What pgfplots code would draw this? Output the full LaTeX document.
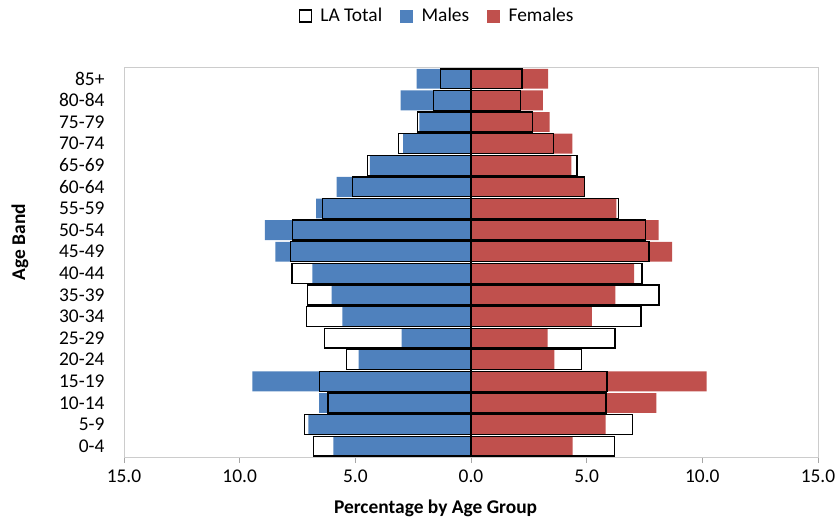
\documentclass[border=0pt]{standalone}
\usepackage{pgfplots}
\usepackage{pgfplotstable}
\pgfplotsset{compat=1.18}
\usepackage{fontspec}
\setmainfont{Carlito}
\definecolor{malesblue}{RGB}{79,129,189}
\definecolor{femred}{RGB}{192,80,77}

% pos, males %, females %, LA total (male side), LA total (female side)
\pgfplotstableread{
pos males females latm latf
0  5.95  4.39  6.82 6.20
1  7.03  5.82  7.21 6.99
2  6.57  8.01  6.18 5.84
3  9.45 10.19  6.56 5.88
4  4.86  3.60  5.37 4.77
5  3.00  3.31  6.34 6.22
6  5.56  5.22  7.10 7.35
7  6.02  6.24  7.06 8.13
8  6.86  7.05  7.74 7.39
9  8.46  8.69  7.80 7.69
10 8.91  8.11  7.71 7.54
11 6.70  6.28  6.43 6.37
12 5.81  4.90  5.11 4.91
13 4.37  4.34  4.48 4.58
14 2.93  4.38  3.14 3.57
15 2.23  3.40  2.30 2.66
16 3.04  3.11  1.63 2.13
17 2.35  3.33  1.31 2.20
}\pyramid

\newcommand{\chartfont}{\fontsize{19.5}{23}\selectfont}

\begin{document}
\begin{tikzpicture}
\path[use as bounding box] (0bp,0bp) rectangle (838bp,520bp);
\begin{axis}[
    at={(124bp,63bp)}, anchor=south west,
    scale only axis, width=694bp, height=389bp,
    xbar, bar shift=0pt, bar width=0.92,
    xmin=-15, xmax=15, ymin=-0.5, ymax=17.5,
    xtick={-15,-10,...,15},
    xticklabel={\pgfmathparse{abs(\tick)}\pgfmathprintnumber[fixed,fixed zerofill,precision=1]{\pgfmathresult}},
    /pgf/number format/assume math mode=true,
    ytick={0,...,17},
    yticklabels={0-4,5-9,10-14,15-19,20-24,25-29,30-34,35-39,40-44,45-49,50-54,55-59,60-64,65-69,70-74,75-79,80-84,85+},
    tick label style={font=\chartfont, text=black},
    yticklabel style={xshift=-10bp},
    xticklabel style={yshift=-3bp},
    tick align=outside, xtick pos=lower,
    major tick length=6bp,
    x tick style={draw=black!35, line width=0.8bp},
    y tick style={draw=none},
    axis line style={draw=black!20, line width=1bp},
    xlabel={\textbf{Percentage by Age Group}},
    xlabel style={font=\chartfont, at={(axis description cs:0.449,-0.131)}, anchor=center},
    ylabel={\textbf{Age Band}},
    ylabel style={font=\chartfont, at={(axis description cs:-0.150,0.553)}, anchor=center, rotate=0},
    legend style={font=\chartfont, draw=none, at={(axis description cs:0.451,1.134)}, anchor=center,
        /tikz/every even column/.append style={column sep=16bp}},
    legend columns=3,
]
\addplot[fill=malesblue, draw=none, forget plot] table[x expr=-\thisrow{males}, y=pos] {\pyramid};
\addplot[fill=femred, draw=none, forget plot] table[x=females, y=pos] {\pyramid};
\addplot[fill=none, draw=black, line width=1.3bp, forget plot] table[x expr=-\thisrow{latm}, y=pos] {\pyramid};
\addplot[fill=none, draw=black, line width=1.3bp, forget plot] table[x=latf, y=pos] {\pyramid};
\draw[black, line width=1.5bp] (axis cs:0,-0.5) -- (axis cs:0,17.5);

\addlegendimage{legend image code/.code={\draw[black, fill=white, line width=1.3bp] (0bp,-6bp) rectangle (12bp,6bp); \path (19bp,0bp);}}
\addlegendentry{LA Total}
\addlegendimage{legend image code/.code={\fill[malesblue] (0bp,-6bp) rectangle (12bp,6bp); \path (19bp,0bp);}}
\addlegendentry{Males}
\addlegendimage{legend image code/.code={\fill[femred] (0bp,-6bp) rectangle (12bp,6bp); \path (19bp,0bp);}}
\addlegendentry{Females}
\end{axis}
\end{tikzpicture}
\end{document}
